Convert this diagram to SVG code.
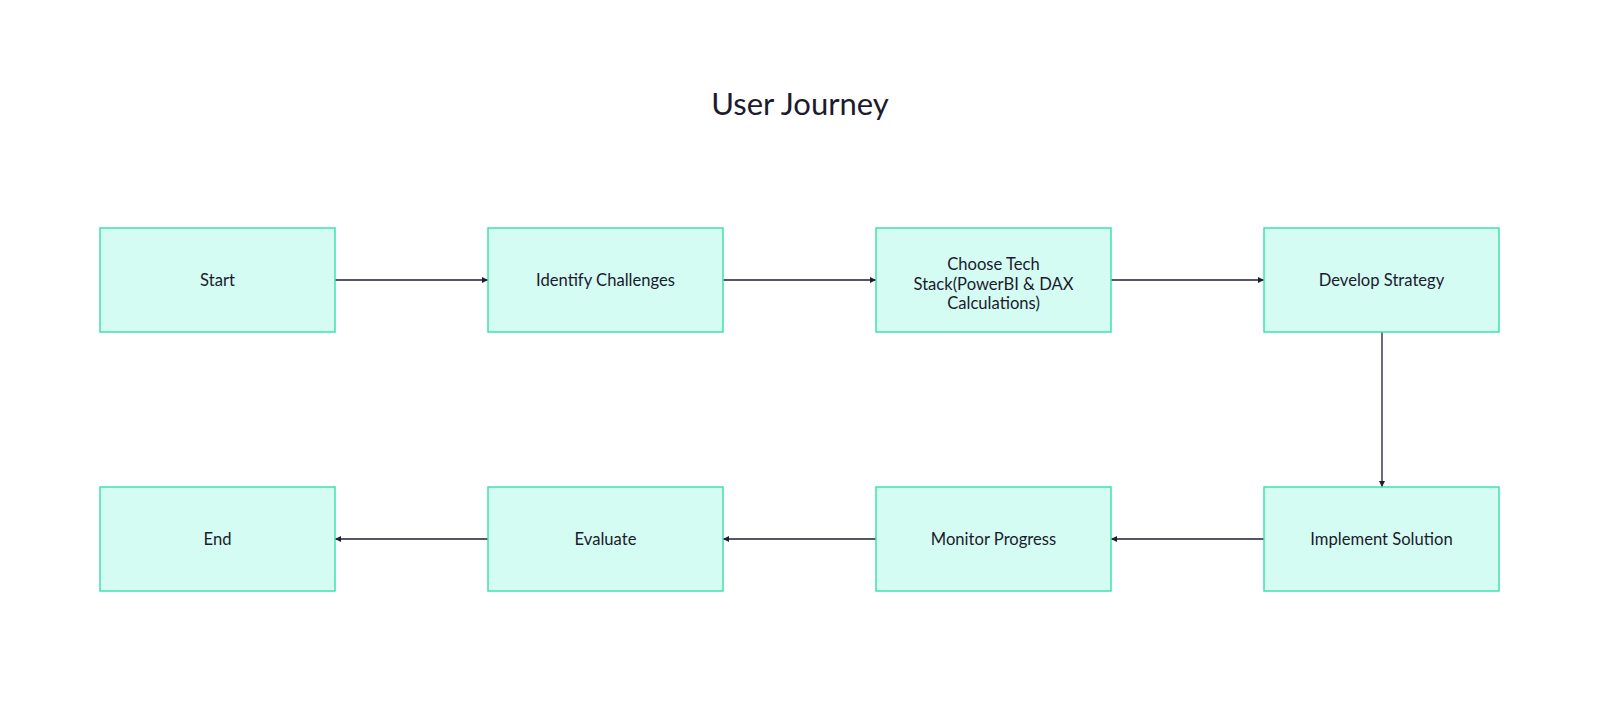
<svg xmlns="http://www.w3.org/2000/svg" width="1600" height="710" viewBox="0 0 1600 710">
<style>
.box{fill:#d4fcf2;stroke:#40e2ab;stroke-width:1.5}
.lbl{font-family:Lato,"Noto Sans",sans-serif;font-size:16.6px;fill:#1b1a2e;text-anchor:middle;dominant-baseline:central}
.title{font-family:Lato,"Noto Sans",sans-serif;font-size:31px;fill:#1b1a2e;text-anchor:middle}
.edge{stroke:#1f1e2e;stroke-width:1.3;fill:none;marker-end:url(#ah)}
</style>
<defs>
<marker id="ah" viewBox="0 0 10 10" refX="10" refY="5" markerWidth="6" markerHeight="6" markerUnits="userSpaceOnUse" orient="auto">
<path d="M0,0 L10,5 L0,10 z" fill="#1f1e2e"/>
</marker>
</defs>
<rect width="1600" height="710" fill="#ffffff"/>
<text class="title" x="800" y="115">User Journey</text>
<g id="connectors">
<line class="edge" x1="335" y1="280" x2="488" y2="280"/>
<line class="edge" x1="723" y1="280" x2="876" y2="280"/>
<line class="edge" x1="1111" y1="280" x2="1264" y2="280"/>
<line class="edge" x1="1382" y1="332" x2="1382" y2="487"/>
<line class="edge" x1="1264" y1="539" x2="1111" y2="539"/>
<line class="edge" x1="876" y1="539" x2="723" y2="539"/>
<line class="edge" x1="488" y1="539" x2="335" y2="539"/>
</g>
<g id="start"><rect class="box" x="100" y="228" width="235" height="104"/><text class="lbl" x="217.5" y="280">Start</text></g>
<g id="identify"><rect class="box" x="488" y="228" width="235" height="104"/><text class="lbl" x="605.5" y="280">Identify Challenges</text></g>
<g id="choose"><rect class="box" x="876" y="228" width="235" height="104"/><text class="lbl" x="993.5" y="264">Choose Tech</text><text class="lbl" x="993.5" y="283.5">Stack(PowerBI &amp; DAX</text><text class="lbl" x="993.5" y="303">Calculations)</text></g>
<g id="develop"><rect class="box" x="1264" y="228" width="235" height="104"/><text class="lbl" x="1381.5" y="280">Develop Strategy</text></g>
<g id="implement"><rect class="box" x="1264" y="487" width="235" height="104"/><text class="lbl" x="1381.5" y="539">Implement Solution</text></g>
<g id="monitor"><rect class="box" x="876" y="487" width="235" height="104"/><text class="lbl" x="993.5" y="539">Monitor Progress</text></g>
<g id="evaluate"><rect class="box" x="488" y="487" width="235" height="104"/><text class="lbl" x="605.5" y="539">Evaluate</text></g>
<g id="end"><rect class="box" x="100" y="487" width="235" height="104"/><text class="lbl" x="217.5" y="539">End</text></g>
</svg>
